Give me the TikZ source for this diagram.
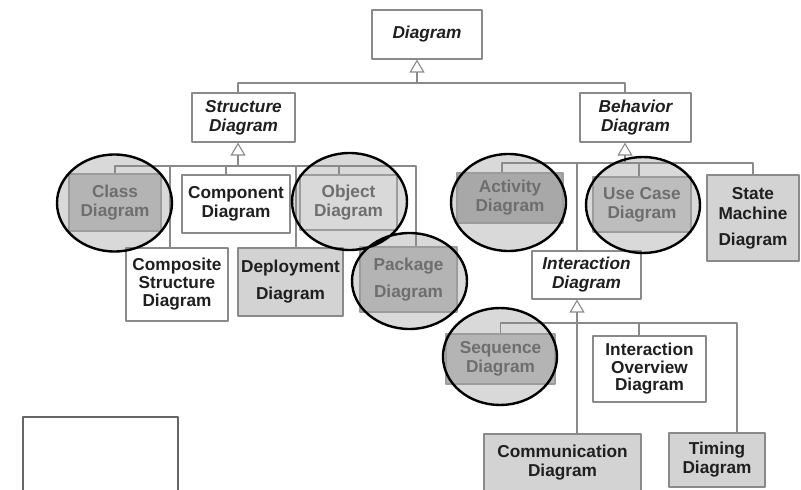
\documentclass[tikz,border=0pt]{standalone}
\usepackage{fontspec}
\setmainfont{Liberation Sans}
\usetikzlibrary{arrows.meta}
\definecolor{boxline}{HTML}{8A8A8A}
\definecolor{boxgray}{HTML}{D3D3D3}
\definecolor{ringgray}{HTML}{D9D9D9}
\definecolor{dimgray}{HTML}{B4B4B4}
\definecolor{dimtext}{HTML}{6E6E6E}
\begin{document}
\begin{tikzpicture}[x=1bp,y=-1bp,line join=bevel,
  box/.style={draw=boxline,line width=1.1bp,fill=white,inner sep=0pt,align=center,text=black!88,font=\bfseries\fontsize{17.3}{19}\selectfont},
  wh/.style 2 args={minimum width=#1bp,minimum height=#2bp},
  abstract/.style={box,font=\bfseries\itshape\fontsize{17.3}{19}\selectfont},
  shaded/.style={box,fill=boxgray},
  dimmed/.style={box,draw=boxline!85,fill=dimgray,text=dimtext},
  conn/.style={draw=boxline,line width=1.1bp},
  gen/.style={conn,-{Triangle[open,length=13bp,width=15bp]}},
  ring/.style={draw=black,line width=2.4bp},
]
\useasboundingbox (0,0) rectangle (801,490);
\clip (0,0) rectangle (801,490);
%%
\fill [ringgray] (114.5,203) ellipse [x radius=57.5bp,y radius=48.5bp]
  (349.5,201.5) ellipse [x radius=57.5bp,y radius=48.5bp]
  (409.5,281) ellipse [x radius=57.5bp,y radius=48bp]
  (508.5,202.5) ellipse [x radius=57.5bp,y radius=48.5bp]
  (643,205) ellipse [x radius=57bp,y radius=48bp]
  (500,356.5) ellipse [x radius=57bp,y radius=48.5bp];
%
\node (diagram) at (427,34.5) [abstract,wh={110}{49}] {Diagram};
  \node (structure) at (243.5,117.5) [abstract,wh={103}{49}] {Structure\\Diagram};
  \node (behavior) at (635.5,117.5) [abstract,wh={111}{49}] {Behavior\\Diagram};
  \node (class) at (115,202.5) [dimmed,wh={92}{57}] {Class\\Diagram};
  \node (component) at (236,204) [box,wh={108}{58}] {Component\\Diagram};
  \node (object) at (348.5,202.5) [dimmed,fill=ringgray,wh={97}{55}] {Object\\Diagram};
  \node (composite) at (177,284.5) [box,wh={102}{73}] {Composite\\[-1pt]Structure\\[-1pt]Diagram};
  \node (deployment) at (290.5,282) [shaded,wh={105}{68}] {Deployment\\[8pt]Diagram};
  \node (package) at (408.5,279.5) [dimmed,wh={97}{65}] {Package\\[8pt]Diagram};
  \node (activity) at (510,198) [dimmed,fill=black!34,wh={106}{50}] {Activity\\Diagram};
  \node (usecase) at (642,204.5) [dimmed,fill=black!26,wh={98}{55}] {Use Case\\Diagram};
  \node (statemachine) at (753,218) [shaded,wh={92}{86}] {State\\[1pt]Machine\\[7pt]Diagram};
  \node (interaction) at (586.5,275) [abstract,wh={109}{48}] {Interaction\\Diagram};
  \node (sequence) at (500.5,359) [dimmed,wh={109}{50}] {Sequence\\Diagram};
  \node (overview) at (649.5,369) [box,wh={113}{66}] {Interaction\\[-1.5pt]Overview\\[-1.5pt]Diagram};
  \node (communication) at (562.5,463) [shaded,wh={157}{58}] {Communication\\Diagram};
  \node (timing) at (717,460) [shaded,wh={96}{54}] {Timing\\Diagram};
  \node (blank) at (100.5,454.5) [box,draw=black!60,wh={155}{75}] {};
%
\coordinate (jD) at (417,83);
  \coordinate (jS) at (238,166);
  \coordinate (jB) at (625,163);
  \coordinate (jI) at (577,323);
%
\draw [gen] (jD) -- (jD |- diagram.south);
  \draw [conn] ([xshift=-5.5bp]structure.north) |- (jD) -| ([xshift=-10.5bp]behavior.north);
%
\draw [gen] (jS) -- (jS |- structure.south);
  \draw [conn] (class.north) |- (jS) -| ([xshift=7.5bp]package.north);
  \draw [conn] (jS) -| ([xshift=-10bp]component.north);
  \draw [conn] (jS) -| ([xshift=-7bp]composite.north);
  \draw [conn] (jS) -| ([xshift=-9.5bp]object.north);
  \draw [conn] (jS) -| ([xshift=5.5bp]deployment.north);
%
\draw [gen] (jB) -- (jB |- behavior.south);
  \draw [conn] ([xshift=-8bp]activity.north) |- (jB) -| (statemachine.north);
  \draw [conn] (jB) -| ([xshift=-9.5bp]interaction.north);
  \draw [conn] (jB) -| ([xshift=-3bp]usecase.north);
%
\draw [gen] (jI) -- (jI |- interaction.south);
  \draw [conn] (sequence.north) |- (jI) -| ([xshift=20bp]timing.north);
  \draw [conn] (jI) -- (jI |- communication.north);
  \draw [conn] (jI) -| ([xshift=-10.5bp]overview.north);
%%
\draw [ring] (114.5,203) ellipse [x radius=57.5bp,y radius=48.5bp]
  (349.5,201.5) ellipse [x radius=57.5bp,y radius=48.5bp]
  (409.5,281) ellipse [x radius=57.5bp,y radius=48bp]
  (508.5,202.5) ellipse [x radius=57.5bp,y radius=48.5bp]
  (643,205) ellipse [x radius=57bp,y radius=48bp]
  (500,356.5) ellipse [x radius=57bp,y radius=48.5bp];
%
\end{tikzpicture}
\end{document}
